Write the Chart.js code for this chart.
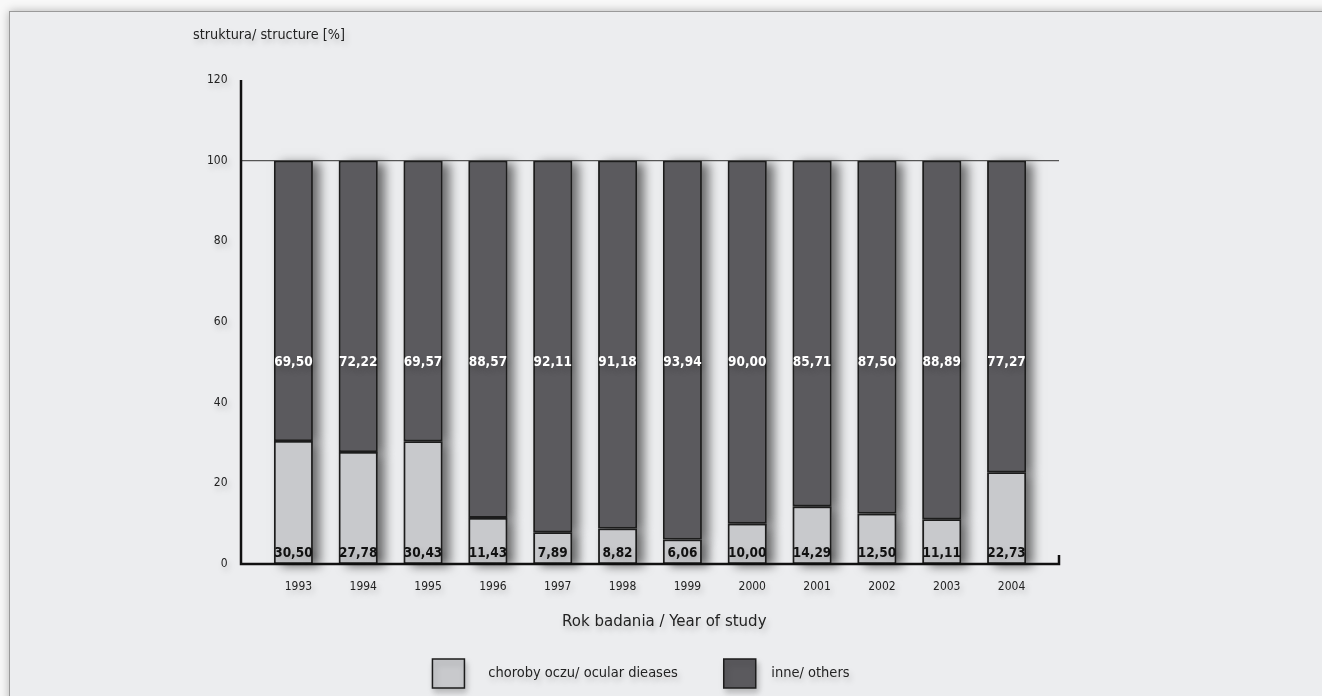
<!DOCTYPE html>
<html>
<head>
<meta charset="utf-8">
<script src="https://cdn.jsdelivr.net/npm/chart.js@4.4.1/dist/chart.umd.min.js"></script>
<style>
  html, body { margin:0; padding:0; width:1322px; height:696px; overflow:hidden; background:#f8f8f8; }
  .card { position:absolute; left:9px; top:11px; width:1340px; height:720px; background:#ecedef;
          border-top:1.5px solid #9a9a9a; border-left:1.5px solid #9a9a9a; box-shadow:0 0 9px rgba(0,0,0,0.28); }
  #wrap { position:absolute; left:0; top:0; width:1322px; height:698px; }
</style>
</head>
<body>
<div class="card"></div>
<div id="wrap"><canvas id="c" width="1322" height="698" style="width:1322px;height:698px"></canvas></div>
<script>
const categories = ['1993','1994','1995','1996','1997','1998','1999','2000','2001','2002','2003','2004'];
const ocularDiseases = [30.50, 27.78, 30.43, 11.43, 7.89, 8.82, 6.06, 10.00, 14.29, 12.50, 11.11, 22.73];
const others = [69.50, 72.22, 69.57, 88.57, 92.11, 91.18, 93.94, 90.00, 85.71, 87.50, 88.89, 77.27];
const yTicks = [0, 20, 40, 60, 80, 100, 120];
const seriesNames = ['choroby oczu/ ocular dieases', 'inne/ others'];
const yTitle = 'struktura/ structure [%]';
const xTitle = 'Rok badania / Year of study';

const FONT = "'Liberation Sans Narrow', 'DejaVu Sans Condensed', 'Liberation Sans', sans-serif";
const LIGHT = '#c8c9cc', DARK = '#5b5a5e', EDGE = '#1c1c1c';

const fmt = v => v.toFixed(2).replace('.', ',');

function textShadow(ctx) {
  ctx.shadowColor = 'rgba(0,0,0,0.22)'; ctx.shadowBlur = 6; ctx.shadowOffsetX = 2; ctx.shadowOffsetY = 4;
}

const shadowPlugin = {
  id: 'shadows',
  beforeDraw(chart) { chart.ctx.save(); textShadow(chart.ctx); },
  beforeDatasetsDraw(chart) {
    const ctx = chart.ctx;
    ctx.restore();
    ctx.save();
    ctx.shadowColor = 'rgba(0,0,0,0.55)'; ctx.shadowBlur = 10; ctx.shadowOffsetX = 7; ctx.shadowOffsetY = 2;
    ctx.fillStyle = '#6a6a6a';
    chart.data.datasets.forEach((ds, di) => {
      chart.getDatasetMeta(di).data.forEach(el => {
        const p = el.getProps(['x', 'y', 'base', 'width'], true);
        ctx.fillRect(p.x - p.width / 2, Math.min(p.y, p.base), p.width, Math.abs(p.base - p.y));
      });
    });
    ctx.restore();
    const {chartArea: a, scales: {y}} = chart;
    const yp = y.getPixelForValue(100);
    ctx.save();
    ctx.strokeStyle = '#555'; ctx.lineWidth = 1.2;
    ctx.beginPath(); ctx.moveTo(a.left - 20, yp); ctx.lineTo(a.right + 20, yp); ctx.stroke();
    ctx.restore();
  }
};

const decorPlugin = {
  id: 'decor',
  afterDatasetsDraw(chart) {
    const {ctx, chartArea: a, scales: {y}} = chart;
    const y0 = y.getPixelForValue(0), yTop = y.getPixelForValue(120);
    const L = a.left - 20, R = a.right + 20;
    ctx.save();
    ctx.strokeStyle = '#111'; ctx.lineWidth = 2.5; ctx.lineCap = 'butt';
    ctx.beginPath();
    ctx.moveTo(L, yTop); ctx.lineTo(L, y0 + 1.2);
    ctx.moveTo(L - 1.2, y0); ctx.lineTo(R, y0);
    ctx.moveTo(R, y0 + 1.2); ctx.lineTo(R, y0 - 9);
    ctx.stroke();
    textShadow(ctx);
    ctx.textAlign = 'center'; ctx.textBaseline = 'middle';
    ctx.font = "bold 13.5px " + FONT;
    const m0 = chart.getDatasetMeta(0), m1 = chart.getDatasetMeta(1);
    m0.data.forEach((el, i) => {
      ctx.fillStyle = '#111';
      ctx.fillText(fmt(ocularDiseases[i]), el.x, y0 - 11);
    });
    m1.data.forEach((el, i) => {
      ctx.fillStyle = '#ffffff';
      ctx.fillText(fmt(others[i]), el.x, y.getPixelForValue(50));
    });
    ctx.font = "14.3px " + FONT; ctx.fillStyle = '#222'; ctx.textAlign = 'left';
    ctx.fillText(yTitle, a.left - 68, 35);
    ctx.restore();
  }
};

const legendGap = ['    ', '  '];

new Chart(document.getElementById('c'), {
  type: 'bar',
  data: {
    labels: categories,
    datasets: [
      { label: seriesNames[0], data: ocularDiseases, backgroundColor: LIGHT, borderColor: EDGE, borderWidth: 1.8, borderSkipped: false },
      { label: seriesNames[1], data: others, backgroundColor: DARK, borderColor: EDGE, borderWidth: 1.8, borderSkipped: false }
    ]
  },
  options: {
    responsive: false,
    animation: false,
    layout: { padding: { left: 243, right: 283, top: 80, bottom: 0 } },
    datasets: { bar: { categoryPercentage: 1.0, barPercentage: 0.6 } },
    scales: {
      x: {
        stacked: true,
        grid: { display: false, drawTicks: false },
        border: { display: false },
        ticks: { padding: 16, labelOffset: 5, color: '#222', font: { family: FONT, size: 12 } },
        title: { display: true, text: '      ' + xTitle, color: '#222', font: { family: FONT, size: 16.7 }, padding: { top: 0, bottom: -19 } },
        afterFit(s) { s.height = 49; }
      },
      y: {
        stacked: true, min: 0, max: 120,
        afterBuildTicks(s) { s.ticks = yTicks.map(v => ({ value: v })); },
        grid: { display: false, drawTicks: false },
        border: { display: false },
        ticks: { mirror: true, crossAlign: 'far', padding: -54, color: '#222', font: { family: FONT, size: 12 } },
        afterFit(s) { s.width = 18; }
      }
    },
    plugins: {
      tooltip: { enabled: false },
      legend: {
        position: 'bottom',
        labels: {
          boxWidth: 32, boxHeight: 29, padding: 46, color: '#222',
          font: { family: FONT, size: 14.5 },
          generateLabels(chart) {
            return Chart.defaults.plugins.legend.labels.generateLabels(chart).map((it, i) => {
              it.text = legendGap[i] + it.text; it.lineWidth = 1.5; it.strokeStyle = EDGE; return it;
            });
          }
        }
      }
    }
  },
  plugins: [shadowPlugin, decorPlugin]
});
</script>
</body>
</html>
